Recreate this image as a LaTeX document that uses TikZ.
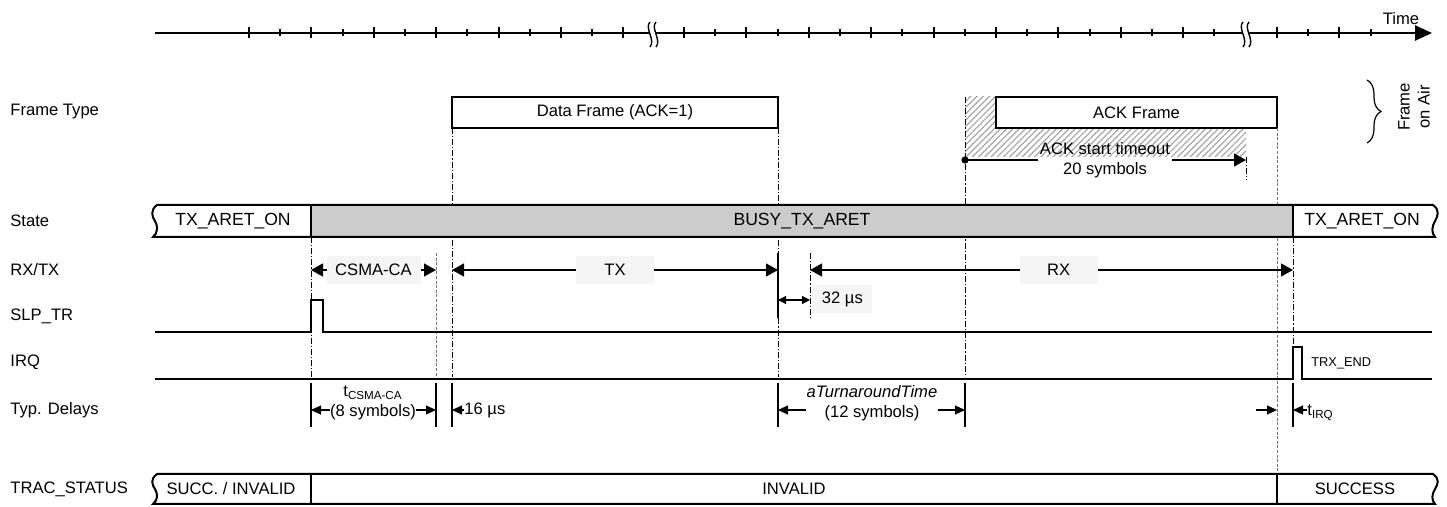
\documentclass[tikz,border=0pt]{standalone}
\usepackage{fontspec}
\setmainfont{Liberation Sans}
\usetikzlibrary{arrows.meta,patterns.meta,decorations.pathreplacing}

\begin{document}
\begin{tikzpicture}[x=0.5pt,y=-0.5pt,
		font=\fontsize{8.3}{10}\selectfont,
		>={Triangle[length=6pt,width=6.5pt]},
		sig/.style={line width=1pt},
		guide/.style={line width=0.5pt,dash pattern=on 3pt off 1pt on 0.6pt off 1pt},
		guideg/.style={line width=0.5pt,black!55,dash pattern=on 1.5pt off 0.8pt},
		frm/.style={draw,line width=1pt,fill=white,minimum height=15.5pt,inner sep=0pt},
		tbox/.style={fill=black!4,minimum height=14pt,inner sep=0pt},
		stxt/.style={font=\fontsize{8.8}{10}\selectfont},
		dly/.style={-{Triangle[length=5pt,width=4.5pt]},line width=0.6pt},
		usarr/.style={{Triangle[length=4pt,width=4pt]}-{Triangle[length=4pt,width=4pt]},line width=0.6pt},
		rowlbl/.style={anchor=west,inner sep=0pt}]
	\useasboundingbox (0,0) rectangle (1447,507);
	% instants and levels
	\foreach \n/\x in {t0/311,t1/436,t2/452,t3/778,t4/810,t5/965,t6/1246,t7/1277,t8/1293}
		\coordinate (\n) at (\x,0);
	\foreach \n/\y in {yFt/97,yFb/128,yHb/157,yTo/160,yTe/180,ySt/205,ySb/237,yGa/253,%
		yRX/270,y32/300,y32e/318,ySlp/332,yGe/377,yIrq/379,yDt/383,yD/410,yDb/427,yTt/474,yTb/504}
		\coordinate (\n) at (0,\y);
	
	% row labels
	\foreach \n/\y/\t in {lfr/112/Frame Type,lst/221/State,lrx/270/{RX/TX},lslp/316/SLP\_TR,%
		lirq/362/IRQ,ldly/410/Typ. Delays,ltrac/489/TRAC\_STATUS}
		\node[rowlbl] (\n) at (10,\y) {\t};
	
	% time axis
	\coordinate (ax0) at (155,33);
	\coordinate (ax1) at (1432,33);
	\draw[line width=1.3pt,-{Triangle[length=8.5pt,width=7.5pt]}] (ax0) -- (ax1);
	\node (time) at (1401,19) {Time};
	\foreach \s/\k in {249/12,684/17,1277/3}
		\foreach \i in {0,...,\k} {
			\pgfmathsetmacro\xx{\s+31.2*\i}
			\pgfmathsetmacro\hh{ifthenelse(mod(\i,2)==0,5.5,3.5)}
			\draw[line width=1pt] (\xx,33-\hh) -- (\xx,33+\hh);
		}
	\foreach \b in {653,1246} {
		\fill[white] (\b-3,22) .. controls (\b-9,28) and (\b+3,40) .. (\b-3,47) -- 
			(\b+3,47) .. controls (\b+9,40) and (\b-3,28) .. (\b+3,22) -- cycle;
		\draw[line width=0.7pt] (\b-3,22) .. controls (\b-9,28) and (\b+3,40) .. (\b-3,47);
		\draw[line width=0.7pt] (\b+3,22) .. controls (\b-3,28) and (\b+9,40) .. (\b+3,47);
	}
	
	% frames on air
	\fill[pattern={Lines[angle=45,distance=2.2pt,line width=0.6pt]},pattern color=black!35]
		(t5 |- yFt) rectangle (t6 |- yHb);
	\node[frm,minimum width=163pt] (data) at (615,112.5) {Data Frame (ACK=1)};
	\node[frm,minimum width=140.5pt] (ack) at (1136.5,112.5) {ACK Frame};
	\node[align=center,inner sep=1pt] (tmo) at (1105,160) {ACK start timeout\\20 symbols};
	\fill (t5 |- yTo) circle[radius=1.8pt];
	\draw[line width=0.6pt] (t5 |- yTo) -- (tmo.west |- yTo);
	\draw[line width=0.6pt,->] (tmo.east |- yTo) -- (t6 |- yTo);
	\coordinate (br0) at (1367,80);
	\coordinate (br1) at (1367,143);
	\draw[decorate,decoration={brace,amplitude=7pt},line width=0.6pt] (br0) -- (br1);
	\node[rotate=90,align=center,inner sep=0pt] (air) at (1414,107) {Frame\\on Air};
	
	% guides
	\foreach \t/\a/\s in {t0/ySb/guide,t1/yGa/guideg,t2/yFb/guide,t3/yFb/guide,t5/yFt/guide,t8/ySb/guide}
		\draw[\s] (\t |- \a) -- (\t |- yGe);
	\draw[guide] (t4 |- yGa) -- (t4 |- y32e);
	\draw[line width=0.6pt] (t3 |- yGa) -- (t3 |- y32e);
	\draw[guideg] (t7 |- yFb) -- (t7 |- yTt);
	\draw[guide] (t6 |- yHb) -- (t6 |- yTe);
	\foreach \t in {t0,t1,t2,t3,t5,t8}
		\draw[line width=0.6pt] (\t |- yDt) -- (\t |- yDb);
	
	% state
	\fill[black!20] (t0 |- ySt) rectangle (t8 |- ySb);
	\draw[sig] (157,205) .. controls (150,210) and (152,217) .. (155,221) .. controls (158,226) and (158,233) .. (153,237)
		-- (1435,237) .. controls (1431,233) and (1432,226) .. (1435,221) .. controls (1438,216) and (1440,210) .. (1433,205) -- cycle;
	\draw[sig] (t0 |- ySt) -- (t0 |- ySb);
	\draw[sig] (t8 |- ySt) -- (t8 |- ySb);
	\node[stxt] (st1) at (233,221) {TX\_ARET\_ON};
	\node[stxt] (st2) at (802,221) {BUSY\_TX\_ARET};
	\node[stxt] (st3) at (1362,221) {TX\_ARET\_ON};
	
	% RX/TX
	\draw[<->,line width=0.6pt] (t0 |- yRX) -- node[tbox,minimum width=47pt] (csma) {CSMA-CA} (t1 |- yRX);
	\draw[<->,line width=0.6pt] (t2 |- yRX) -- node[tbox,minimum width=39pt] (tx) {TX} (t3 |- yRX);
	\draw[<->,line width=0.6pt] (t4 |- yRX) -- node[tbox,minimum width=39pt,pos=0.515] (rx) {RX} (t8 |- yRX);
	\draw[usarr] (t3 |- y32) -- (t4 |- y32);
	\node[tbox,anchor=west,minimum width=30pt] (us32) at (812,299) {32 µs};
	
	% SLP_TR and IRQ
	\coordinate (slp0) at (155,332);
	\coordinate (slp1) at (1432,332);
	\draw[sig] (slp0) -- (t0 |- slp0) -- ++(0,-32) -- ++(12,0) -- ++(0,32) -- (slp1);
	\coordinate (irq0) at (155,379);
	\coordinate (irq1) at (1432,379);
	\draw[sig] (irq0) -- (t8 |- irq0) -- ++(0,-32) -- ++(9,0) -- ++(0,32) -- (irq1);
	\node[anchor=west,inner sep=0pt,font=\fontsize{6.4}{7}\selectfont] (trxend) at (1311,363) {TRX\_END};
	
	% typical delays
	\node[align=center,inner sep=0pt] (dcsma) at (373,403) {t\textsubscript{CSMA-CA}\\(8 symbols)};
	\draw[dly] (dcsma.west |- yD) -- (t0 |- yD);
	\draw[dly] (dcsma.east |- yD) -- (t1 |- yD);
	\node[anchor=west,inner sep=0pt] (d16) at (464,410) {16 µs};
	\draw[dly] (d16.west |- yD) -- (t2 |- yD);
	\node[align=center,inner sep=0pt] (dturn) at (872,403) {\textit{aTurnaroundTime}\\(12 symbols)};
	\draw[dly] (dturn.west |- yD) -- (t3 |- yD);
	\draw[dly] (dturn.east |- yD) -- (t5 |- yD);
	\coordinate (irqa) at (1256,410);
	\draw[dly] (irqa) -- (t7 |- yD);
	\node[anchor=west,inner sep=0pt] (dirq) at (1307,413) {t\textsubscript{IRQ}};
	\draw[dly] (dirq.west |- yD) -- (t8 |- yD);
	
	% TRAC_STATUS
	\draw[sig] (157,474) .. controls (150,479) and (152,485) .. (155,489) .. controls (158,494) and (158,500) .. (153,504)
		-- (1435,504) .. controls (1431,500) and (1432,494) .. (1435,489) .. controls (1438,484) and (1440,479) .. (1433,474) -- cycle;
	\draw[sig] (t0 |- yTt) -- (t0 |- yTb);
	\draw[sig] (t7 |- yTt) -- (t7 |- yTb);
	\node (tr1) at (231,489) {SUCC. / INVALID};
	\node (tr2) at (794,489) {INVALID};
	\node (tr3) at (1355,489) {SUCCESS};
\end{tikzpicture}
\end{document}
